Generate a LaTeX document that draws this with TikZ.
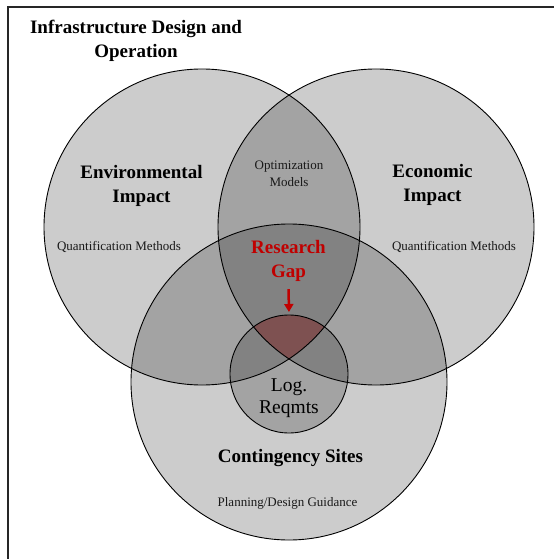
\documentclass[tikz,border=0pt]{standalone}
\usepackage{fontspec}
\setmainfont{Liberation Serif}
\usetikzlibrary{arrows.meta}
\definecolor{gapred}{RGB}{192,0,0}
\definecolor{gapfill}{RGB}{126,81,81}
\begin{document}
\begin{tikzpicture}[x=1pt,y=-1pt,
  setfill/.style={circle, inner sep=0pt, outer sep=0pt, fill=black, fill opacity=0.2},
  big/.style={setfill, minimum size=316pt},
  small/.style={setfill, minimum size=118pt},
  outline/.style={draw=black, line width=0.9pt},
  head/.style={font=\fontsize{19}{24}\selectfont\bfseries, align=center, text=black},
  sub/.style={font=\fontsize{13}{17}\selectfont, align=center, text=black!90},
  reg/.style={font=\fontsize{19.5}{22}\selectfont, align=center, text=black}]
\useasboundingbox (0,0) rectangle (554,559);
\fill[white] (0,0) rectangle (554,559);
% frame
\draw[line width=1.3pt, black!85] (8,559) -- (8,7) -- (554,7);
% circles (fills)
\node[big] (env) at (202,227) {};
\node[big] (eco) at (376,227) {};
\node[big] (cont) at (289,382) {};
\node[small] (log) at (289,374) {};
% research gap region
\begin{scope}
  \clip (env.center) circle[radius=158pt];
  \clip (eco.center) circle[radius=158pt];
  \fill[gapfill] (log.center) circle[radius=59pt];
\end{scope}
% outlines
\draw[outline] (env.center) circle[radius=158pt];
\draw[outline] (eco.center) circle[radius=158pt];
\draw[outline] (cont.center) circle[radius=158pt];
\draw[outline] (log.center) circle[radius=59pt];
% labels
\node[head] (title) at (136,41) {Infrastructure Design and\\Operation};
\node[head] (envt) at (141.5,185.5) {Environmental\\Impact};
\node[head] (ecot) at (432.5,185) {Economic\\Impact};
\node[sub, anchor=base] (envq) at (119,250) {Quantification Methods};
\node[sub, anchor=base] (ecoq) at (454,250) {Quantification Methods};
\node[sub] (opt) at (289,174) {Optimization\\Models};
\node[head, text=gapred] (gap) at (288.5,261) {Research\\Gap};
\node[reg] (logt) at (289,398.5) {Log.\\Reqmts};
\node[head, anchor=base] (contt) at (290.5,462) {Contingency Sites};
\node[sub, anchor=base] (plan) at (287.5,506) {Planning/Design Guidance};
% arrow
\draw[gapred, line width=2.5pt, -{Triangle[length=8pt,width=9pt]}, shorten <=4pt, shorten >=3pt] (gap.south) -- (log.north);
\end{tikzpicture}
\end{document}
